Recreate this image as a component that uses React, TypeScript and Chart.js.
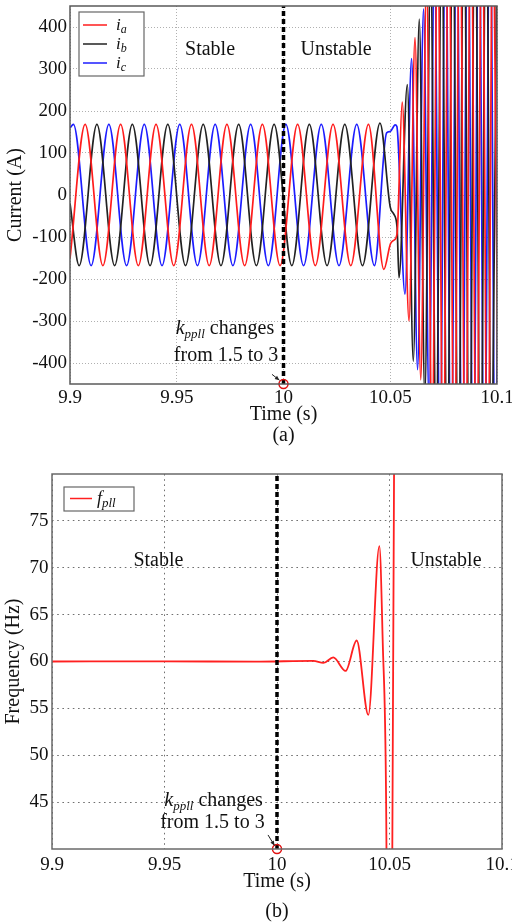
import React, { useEffect, useRef } from "react";
import { Chart, registerables } from "chart.js";

Chart.register(...registerables);

const FONT = '"Liberation Serif", "Times New Roman", Times, serif';
const TEXT_COLOR = "#111";

// ---------- axes ----------
const TIME_MIN = 9.9;
const TIME_MAX = 10.1;
const X_TICKS = [9.9, 9.95, 10, 10.05, 10.1];
const X_TICK_LABELS = ["9.9", "9.95", "10", "10.05", "10.1"];

const CURRENT_MIN = -450;
const CURRENT_MAX = 450;
const CURRENT_TICKS = [-400, -300, -200, -100, 0, 100, 200, 300, 400];
const CURRENT_TICK_LABELS = ["-400", "-300", "-200", "-100", "0", "100", "200", "300", "400"];

const FREQ_MIN = 40;
const FREQ_MAX = 80;
const FREQ_TICKS = [45, 50, 55, 60, 65, 70, 75];
const FREQ_TICK_LABELS = ["45", "50", "55", "60", "65", "70", "75"];

const EVENT_TIME = 10;

// ---------- (a) phase currents: turning points ----------
const IA_T = [9.9, 9.9071, 9.9154, 9.9237, 9.932, 9.9403, 9.9486, 9.9569, 9.9652, 9.9735, 9.9818, 9.9901, 9.9984, 10.0066, 10.0149, 10.0232, 10.0315, 10.0398, 10.047, 10.0501, 10.0516, 10.0532, 10.0556, 10.0588, 10.0616, 10.0643, 10.067, 10.0696, 10.0722, 10.0748, 10.0774, 10.08, 10.0826, 10.0852, 10.0878, 10.0904, 10.093, 10.0956, 10.0982, 10.1008];
const IA_V = [-151, 168, -168, 168, -168, 168, -168, 168, -168, 168, -168, 168, -168, 168, -168, 168, -168, 168, -177, -116, -108, -92, 221, -300, 375, -440, 520, -600, 650, -700, 720, -740, 750, -760, 760, -760, 770, -770, 770, -770];

const IB_T = [9.9, 9.9043, 9.9126, 9.9209, 9.9292, 9.9375, 9.9458, 9.9541, 9.9624, 9.9707, 9.979, 9.9873, 9.9956, 10.0039, 10.0121, 10.0204, 10.0287, 10.037, 10.0452, 10.05, 10.0516, 10.0532, 10.0541, 10.058, 10.0608, 10.0636, 10.0662, 10.0689, 10.0715, 10.0741, 10.0767, 10.0793, 10.0819, 10.0845, 10.0871, 10.0897, 10.0923, 10.0949, 10.0975, 10.1001];
const IB_V = [-20, -168, 168, -168, 168, -168, 168, -168, 168, -168, 168, -168, 168, -168, 168, -168, 168, -168, 171, -29, -45, -77, -197, 263, -396, 419, -480, 560, -620, 670, -710, 730, -750, 760, -760, 770, -770, 770, -770, 770];

const IC_T = [9.9, 9.9016, 9.9099, 9.9182, 9.9265, 9.9348, 9.9431, 9.9514, 9.9597, 9.968, 9.9763, 9.9846, 9.9929, 10.0011, 10.0094, 10.0177, 10.026, 10.0343, 10.0426, 10.0483, 10.05, 10.0523, 10.0531, 10.0569, 10.06, 10.0628, 10.0656, 10.0682, 10.0707, 10.0733, 10.0759, 10.0785, 10.0811, 10.0837, 10.0863, 10.0889, 10.0915, 10.0941, 10.0967, 10.0993, 10.1019];
const IC_V = [160, 168, -168, 168, -168, 168, -168, 168, -168, 168, -168, 168, -168, 168, -168, 168, -168, 168, -168, 148, 151, 167, 163, -236, 325, -416, 443, -500, 580, -640, 690, -720, 740, -750, 760, -760, 770, -770, 770, -770, 770];

// ---------- (b) PLL frequency ----------
const F_T = [9.9, 9.95, 9.99, 10.0161, 10.0206, 10.025, 10.0305, 10.0354, 10.0406, 10.0455, 10.047, 10.0485, 10.0501, 10.053];
const F_V = [60, 60.02, 59.98, 60.07, 59.85, 60.43, 59.0, 62.24, 54.3, 72.3, 62, 45, -20, 150];

// ---------- texts ----------
const STABLE = "Stable";
const UNSTABLE = "Unstable";
const X_TITLE = "Time (s)";
const Y_TITLE_A = "Current (A)";
const Y_TITLE_B = "Frequency (Hz)";
const CAPTION_A = "(a)";
const CAPTION_B = "(b)";
const NOTE_LINE2 = "from 1.5 to 3";

// annotation anchors (data coordinates)
const A_STABLE = { x: 9.9656, y: 333 };
const A_UNSTABLE = { x: 10.0246, y: 333 };
const A_NOTE1 = { x: 9.9726, y: -332 };
const A_NOTE2 = { x: 9.9731, y: -396 };
const A_ARROW = { x0: 9.9946, y0: -427, x1: 9.9981, y1: -441 };
const B_STABLE = { x: 9.9473, y: 70.2 };
const B_UNSTABLE = { x: 10.0751, y: 70.2 };
const B_NOTE1 = { x: 9.9718, y: 44.55 };
const B_NOTE2 = { x: 9.9713, y: 42.2 };
const B_ARROW = { x0: 9.996, y0: 41.5, x1: 9.9989, y1: 40.37 };

type Part = { text: string; italic?: boolean; sub?: boolean };

function drawRich(
  ctx: CanvasRenderingContext2D,
  parts: Part[],
  x: number,
  y: number,
  align: "left" | "center",
  size: number,
  subSize: number,
  subDrop: number
) {
  const fontFor = (p: Part) => `${p.italic ? "italic " : ""}${p.sub ? subSize : size}px ${FONT}`;
  let total = 0;
  const widths = parts.map((p) => {
    ctx.font = fontFor(p);
    const w = ctx.measureText(p.text).width;
    total += w;
    return w;
  });
  let cx = align === "center" ? x - total / 2 : x;
  ctx.textAlign = "left";
  ctx.textBaseline = "alphabetic";
  ctx.fillStyle = TEXT_COLOR;
  parts.forEach((p, i) => {
    ctx.font = fontFor(p);
    ctx.fillText(p.text, cx, y + (p.sub ? subDrop : 0));
    cx += widths[i];
  });
}

function arrow(ctx: CanvasRenderingContext2D, x0: number, y0: number, x1: number, y1: number) {
  ctx.save();
  ctx.strokeStyle = "#222";
  ctx.fillStyle = "#222";
  ctx.lineWidth = 1;
  ctx.beginPath();
  ctx.moveTo(x0, y0);
  ctx.lineTo(x1, y1);
  ctx.stroke();
  const a = Math.atan2(y1 - y0, x1 - x0);
  const L = 5;
  ctx.beginPath();
  ctx.moveTo(x1, y1);
  ctx.lineTo(x1 - L * Math.cos(a - 0.4), y1 - L * Math.sin(a - 0.4));
  ctx.lineTo(x1 - L * Math.cos(a + 0.4), y1 - L * Math.sin(a + 0.4));
  ctx.closePath();
  ctx.fill();
  ctx.restore();
}

type LegendItem = { color: string; parts: Part[] };

function makeOverlay(o: {
  stable: { x: number; y: number };
  unstable: { x: number; y: number };
  note1: { x: number; y: number };
  note2: { x: number; y: number };
  arr: { x0: number; y0: number; x1: number; y1: number };
  caption: string;
  captionDy: number;
  legend: { dx: number; dy: number; w: number; h: number; rowY: number[]; lineX0: number; lineX1: number; textX: number; size: number; subSize: number; items: LegendItem[] };
  gridFrame: string;
}) {
  return {
    id: "overlay",
    afterDraw(chart: any) {
      const { ctx, chartArea } = chart;
      const xs = chart.scales.x;
      const ys = chart.scales.y;
      ctx.save();
      // frame
      ctx.strokeStyle = o.gridFrame;
      ctx.lineWidth = 1.5;
      ctx.setLineDash([]);
      ctx.strokeRect(chartArea.left, chartArea.top, chartArea.right - chartArea.left, chartArea.bottom - chartArea.top);

      // region labels
      ctx.font = `20px ${FONT}`;
      ctx.fillStyle = TEXT_COLOR;
      ctx.textAlign = "center";
      ctx.textBaseline = "alphabetic";
      ctx.fillText(STABLE, xs.getPixelForValue(o.stable.x), ys.getPixelForValue(o.stable.y));
      ctx.fillText(UNSTABLE, xs.getPixelForValue(o.unstable.x), ys.getPixelForValue(o.unstable.y));

      // note
      drawRich(
        ctx,
        [
          { text: "k", italic: true },
          { text: "ppll", italic: true, sub: true },
          { text: " changes" },
        ],
        xs.getPixelForValue(o.note1.x),
        ys.getPixelForValue(o.note1.y),
        "center",
        20,
        13,
        4
      );
      ctx.font = `20px ${FONT}`;
      ctx.textAlign = "center";
      ctx.fillText(NOTE_LINE2, xs.getPixelForValue(o.note2.x), ys.getPixelForValue(o.note2.y));
      arrow(
        ctx,
        xs.getPixelForValue(o.arr.x0),
        ys.getPixelForValue(o.arr.y0),
        xs.getPixelForValue(o.arr.x1),
        ys.getPixelForValue(o.arr.y1)
      );

      // legend
      const lg = o.legend;
      const bx = chartArea.left + lg.dx;
      const by = chartArea.top + lg.dy;
      ctx.fillStyle = "#fff";
      ctx.fillRect(bx, by, lg.w, lg.h);
      ctx.strokeStyle = "#666";
      ctx.lineWidth = 1.2;
      ctx.strokeRect(bx, by, lg.w, lg.h);
      lg.items.forEach((it, i) => {
        const yy = by + lg.rowY[i];
        ctx.strokeStyle = it.color;
        ctx.lineWidth = 1.5;
        ctx.beginPath();
        ctx.moveTo(bx + lg.lineX0, yy);
        ctx.lineTo(bx + lg.lineX1, yy);
        ctx.stroke();
        drawRich(ctx, it.parts, bx + lg.textX, yy + lg.size * 0.3, "left", lg.size, lg.subSize, 3);
      });

      // caption
      ctx.font = `20px ${FONT}`;
      ctx.fillStyle = TEXT_COLOR;
      ctx.textAlign = "center";
      ctx.textBaseline = "middle";
      ctx.fillText(o.caption, (chartArea.left + chartArea.right) / 2, chartArea.bottom + o.captionDy);
      ctx.restore();
    },
  };
}

function pts(t: number[], v: number[]) {
  return t.map((x, i) => ({ x, y: v[i] }));
}

function scales(opt: {
  yMin: number;
  yMax: number;
  yTicks: number[];
  yLabels: string[];
  yTitle: string;
  yWidth: number;
  yTitlePad: number;
  yTickPad: number;
  xTickPad: number;
  xTitlePad: number;
  gridColor: string;
  dash: number[];
}) {
  return {
    x: {
      type: "linear",
      min: TIME_MIN,
      max: TIME_MAX,
      afterBuildTicks: (s: any) => {
        s.ticks = X_TICKS.map((v) => ({ value: v }));
      },
      afterFit: (s: any) => {
        s.height = 45;
        s.paddingLeft = 0;
        s.paddingRight = 0;
      },
      ticks: {
        autoSkip: false,
        maxRotation: 0,
        padding: opt.xTickPad,
        color: TEXT_COLOR,
        font: { family: FONT, size: 19 },
        callback: (_v: any, i: number) => X_TICK_LABELS[i],
      },
      grid: { color: opt.gridColor, lineWidth: 1, drawTicks: false },
      border: { display: false, dash: opt.dash },
      title: {
        display: true,
        text: X_TITLE,
        color: TEXT_COLOR,
        font: { family: FONT, size: 20 },
        padding: { top: 0, bottom: opt.xTitlePad },
      },
    },
    y: {
      type: "linear",
      min: opt.yMin,
      max: opt.yMax,
      afterBuildTicks: (s: any) => {
        s.ticks = opt.yTicks.map((v) => ({ value: v }));
      },
      afterFit: (s: any) => {
        s.width = opt.yWidth;
        s.paddingTop = 0;
        s.paddingBottom = 0;
      },
      ticks: {
        autoSkip: false,
        padding: opt.yTickPad,
        color: TEXT_COLOR,
        font: { family: FONT, size: 19 },
        callback: (_v: any, i: number) => opt.yLabels[i],
      },
      grid: { color: opt.gridColor, lineWidth: 1, drawTicks: false },
      border: { display: false, dash: opt.dash },
      title: {
        display: true,
        text: opt.yTitle,
        color: TEXT_COLOR,
        font: { family: FONT, size: 20 },
        padding: { top: opt.yTitlePad, bottom: 0 },
      },
    },
  };
}

function markerDatasets(yBottom: number, yTop: number) {
  return [
    {
      label: "marker",
      data: [{ x: EVENT_TIME, y: yBottom }],
      showLine: false,
      pointRadius: 4.5,
      pointBorderWidth: 1.5,
      pointBorderColor: "#e01010",
      pointBackgroundColor: "rgba(255,255,255,0)",
      clip: false,
    },
    {
      label: "event",
      data: [
        { x: EVENT_TIME, y: yBottom },
        { x: EVENT_TIME, y: yTop },
      ],
      borderColor: "#000",
      borderWidth: 3.5,
      borderDash: [5, 3],
      pointRadius: 0,
      tension: 0,
    },
  ];
}

function configA(): any {
  const line = (label: string, color: string, t: number[], v: number[]) => ({
    label,
    data: pts(t, v),
    borderColor: color,
    borderWidth: 1.7,
    pointRadius: 0,
    cubicInterpolationMode: "monotone",
  });
  return {
    type: "line",
    data: {
      datasets: [
        ...markerDatasets(CURRENT_MIN, CURRENT_MAX),
        line("ia", "#ff1c1c", IA_T, IA_V),
        line("ib", "#222222", IB_T, IB_V),
        line("ic", "#1c1cff", IC_T, IC_V),
      ],
    },
    options: {
      responsive: false,
      animation: false,
      events: [],
      layout: { padding: { top: 6, right: 23, left: 0, bottom: 21 } },
      plugins: { legend: { display: false }, tooltip: { enabled: false } },
      scales: scales({
        yMin: CURRENT_MIN,
        yMax: CURRENT_MAX,
        yTicks: CURRENT_TICKS,
        yLabels: CURRENT_TICK_LABELS,
        yTitle: Y_TITLE_A,
        yWidth: 70,
        yTitlePad: 4,
        yTickPad: 3,
        xTickPad: 3,
        xTitlePad: 2,
        gridColor: "#b0b0b0",
        dash: [1, 2],
      }),
    },
    plugins: [
      makeOverlay({
        stable: A_STABLE,
        unstable: A_UNSTABLE,
        note1: A_NOTE1,
        note2: A_NOTE2,
        arr: A_ARROW,
        caption: CAPTION_A,
        captionDy: 52,
        gridFrame: "#5a5a5a",
        legend: {
          dx: 9,
          dy: 6,
          w: 65,
          h: 64,
          rowY: [13, 32, 51],
          lineX0: 4,
          lineX1: 28,
          textX: 37,
          size: 17,
          subSize: 12,
          items: [
            { color: "#ff1c1c", parts: [{ text: "i", italic: true }, { text: "a", italic: true, sub: true }] },
            { color: "#222222", parts: [{ text: "i", italic: true }, { text: "b", italic: true, sub: true }] },
            { color: "#1c1cff", parts: [{ text: "i", italic: true }, { text: "c", italic: true, sub: true }] },
          ],
        },
      }),
    ],
  };
}

function configB(): any {
  return {
    type: "line",
    data: {
      datasets: [
        ...markerDatasets(FREQ_MIN, FREQ_MAX),
        {
          label: "fpll",
          data: pts(F_T, F_V),
          borderColor: "#ff2020",
          borderWidth: 1.8,
          pointRadius: 0,
          cubicInterpolationMode: "monotone",
        },
      ],
    },
    options: {
      responsive: false,
      animation: false,
      events: [],
      layout: { padding: { top: 34, right: 23, left: 0, bottom: 30 } },
      plugins: { legend: { display: false }, tooltip: { enabled: false } },
      scales: scales({
        yMin: FREQ_MIN,
        yMax: FREQ_MAX,
        yTicks: FREQ_TICKS,
        yLabels: FREQ_TICK_LABELS,
        yTitle: Y_TITLE_B,
        yWidth: 52,
        yTitlePad: 1.5,
        yTickPad: 3.5,
        xTickPad: 4.5,
        xTitlePad: 0,
        gridColor: "#707070",
        dash: [1.6, 3.6],
      }),
    },
    plugins: [
      makeOverlay({
        stable: B_STABLE,
        unstable: B_UNSTABLE,
        note1: B_NOTE1,
        note2: B_NOTE2,
        arr: B_ARROW,
        caption: CAPTION_B,
        captionDy: 63,
        gridFrame: "#6a6a6a",
        legend: {
          dx: 12,
          dy: 13,
          w: 70,
          h: 24,
          rowY: [11.5],
          lineX0: 6,
          lineX1: 28,
          textX: 33,
          size: 18,
          subSize: 13,
          items: [{ color: "#ff2020", parts: [{ text: "f", italic: true }, { text: "pll", italic: true, sub: true }] }],
        },
      }),
    ],
  };
}

function ChartCanvas(props: { make: () => any; top: number; width: number; height: number }) {
  const ref = useRef<HTMLCanvasElement | null>(null);
  useEffect(() => {
    if (!ref.current) return;
    const chart = new Chart(ref.current, props.make());
    return () => chart.destroy();
  }, []);
  return (
    <canvas
      ref={ref}
      width={props.width}
      height={props.height}
      style={{ position: "absolute", left: 0, top: props.top, width: props.width, height: props.height }}
    />
  );
}

export default function App() {
  return (
    <div
      style={{
        position: "absolute",
        left: 0,
        top: 0,
        width: 512,
        height: 924,
        overflow: "hidden",
        background: "#fff",
      }}
    >
      <ChartCanvas make={configA} top={0} width={520} height={450} />
      <ChartCanvas make={configB} top={440} width={525} height={484} />
    </div>
  );
}
